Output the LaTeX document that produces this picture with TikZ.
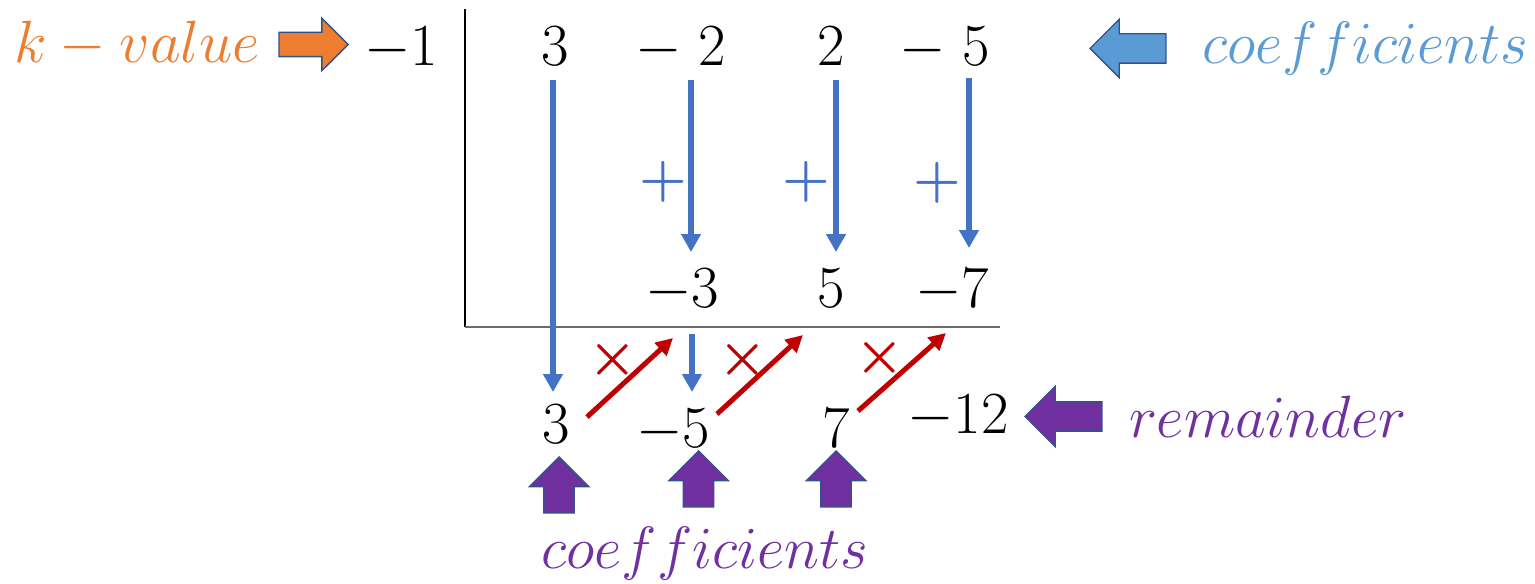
\RequirePackage{fix-cm}
\documentclass[tikz,border=0pt]{standalone}
\usepackage{amsmath}
\usetikzlibrary{positioning,arrows.meta,shapes.arrows,calc}
\definecolor{kcol}{HTML}{ED7D31}
\definecolor{ccol}{HTML}{5B9BD5}
\definecolor{acol}{HTML}{4472C4}
\definecolor{mcol}{HTML}{C00000}
\definecolor{pcol}{HTML}{7030A0}
\definecolor{edge}{HTML}{2F528F}
\tikzset{
  num/.style={anchor=base, inner sep=0pt, font=\fontsize{34}{40}\selectfont},
  lbl/.style={inner sep=0pt, text=#1, font=\fontsize{34}{40}\selectfont},
  sign/.style={inner sep=0pt, text=#1, font=\fontsize{31}{36}\selectfont},
  blk/.style={single arrow, draw=edge, line width=0.8pt, single arrow tip angle=90,
              single arrow head indent=0pt, inner xsep=0pt, anchor=tip},
  kpoint/.style={blk, fill=kcol, minimum height=1.38cm, inner ysep=0.23cm, single arrow head extend=0.28cm},
  cpoint/.style={blk, fill=ccol, rotate=180, minimum height=1.52cm, inner ysep=0.28cm, single arrow head extend=0.29cm},
  rpoint/.style={blk, fill=pcol, rotate=180, minimum height=1.54cm, inner ysep=0.28cm, single arrow head extend=0.31cm},
  upoint/.style={blk, fill=pcol, rotate=90, minimum height=1.12cm, inner ysep=0.29cm, single arrow head extend=0.29cm},
  add/.style={-{Triangle[width=0.38cm,length=0.36cm]}, line width=0.12cm, draw=acol},
  mul/.style={-{Triangle[width=0.34cm,length=0.34cm]}, line width=0.1cm, draw=mcol},
}
\begin{document}
\begin{tikzpicture}[x=0.02cm, y=-0.02cm]
  \useasboundingbox (0,0) rectangle (1535,584);
  % division bracket
  \coordinate (rtop) at (465,9);
  \coordinate (corner) at (465,327);
  \coordinate (rend) at (1000,327);
  \draw[line width=0.7pt] (rtop) -- (corner);
  \draw[line width=1.1pt, draw=black!58] (corner) -- (rend);
  % top row
  \node[num] (t0) at (401,66) {$-1$};
  \node[num] (t1) at (555,66) {$3$};
  \node[num] (t2) at (681,66) {$-\;2$};
  \node[num] (t3) at (831,66) {$2$};
  \node[num] (t4) at (945,66) {$-\;5$};
  % middle row
  \node[num] (m2) at (682,308) {$-3$};
  \node[num] (m3) at (831,308) {$5$};
  \node[num] (m4) at (952,308) {$-7$};
  % bottom row
  \node[num] (b1) at (556,443) {$3$};
  \node[num] (b2) at (673,447) {$-5$};
  \node[num] (b3) at (836,447) {$7$};
  \node[num] (b4) at (958,433) {$-12$};
  % block arrows and labels
  \node[kpoint] (kar) at (349,44.5) {};
  \node[lbl=kcol, left=0.36cm of kar] (kval) {$k-value$};
  \node[cpoint] (car) at (1089,48.5) {};
  \node[lbl=ccol, right=0.7cm of car.tail] (coef) {$coefficients$};
  \node[rpoint] (rar) at (1024,416.5) {};
  \node[lbl=pcol, right=0.52cm of rar.tail] (rem) {$remainder$};
  \node[upoint] (u1) at (559,456) {};
  \node[upoint] (u2) at (698.5,450) {};
  \node[upoint] (u3) at (836,450) {};
  \node[lbl=pcol, below=0.38cm of u2.tail, xshift=0.13cm] (bcoef) {$coefficients$};
  % addition
  \draw[add] ($(t1.base)+(-2,14)$) -- ($(b1.base)+(-3,-51)$);
  \draw[add] ($(t2.base)+(10,14)$) -- ($(m2.base)+(9,-56)$);
  \draw[add] ($(t3.base)+(5,14)$) -- ($(m3.base)+(5,-56)$);
  \draw[add] ($(t4.base)+(24,12)$) -- ($(m4.base)+(17,-60)$);
  \draw[add] ($(b2.base)+(19,-113)$) -- ($(b2.base)+(19,-55)$);
  \node[sign=acol] (p2) at (663,182) {$\boldsymbol{+}$};
  \node[sign=acol] (p3) at (806,182) {$\boldsymbol{+}$};
  \node[sign=acol] (p4) at (937,183) {$\boldsymbol{+}$};
  % multiplication
  \draw[mul] ($(b1.base)+(31,-26)$) -- ($(m2.base)+(-9,30)$);
  \draw[mul] ($(b2.base)+(44,-33)$) -- ($(m3.base)+(-28,27)$);
  \draw[mul] ($(b3.base)+(22,-36)$) -- ($(m4.base)+(-6,25)$);
  \node[sign=mcol] (x1) at (613,360) {$\boldsymbol{\times}$};
  \node[sign=mcol] (x2) at (743,360) {$\boldsymbol{\times}$};
  \node[sign=mcol] (x3) at (880,358) {$\boldsymbol{\times}$};
\end{tikzpicture}
\end{document}
